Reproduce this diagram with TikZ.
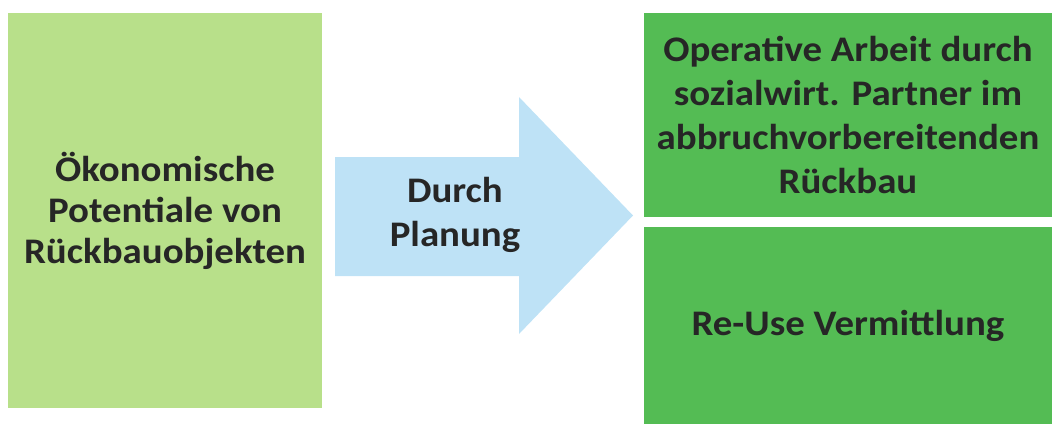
\documentclass[tikz,border=0pt]{standalone}
\usepackage{fontspec}
\setmainfont{Carlito}[FakeStretch=1.08]
\definecolor{lightgrn}{RGB}{184,224,138}
\definecolor{midgrn}{RGB}{84,188,84}
\definecolor{skyblue}{RGB}{190,226,246}
\definecolor{txtgray}{RGB}{38,38,38}
\tikzset{
  box/.style={rectangle, inner sep=0pt, align=center, text=txtgray,
    font=\bfseries\fontsize{36}{44}\selectfont},
}
\begin{document}
\begin{tikzpicture}[x=1pt,y=-1pt]
    \useasboundingbox (0,0) rectangle (1052,424);
    % left box
    \node[box, fill=lightgrn, minimum width=314pt, minimum height=395pt,
      font=\bfseries\fontsize{36}{41}\selectfont] (pot) at (165,210.5)
      {Ökonomische\\Potentiale von\\Rückbauobjekten};
    % block arrow
    \coordinate (A) at (335,157); \coordinate (B) at (519,157);
    \coordinate (C) at (519,97); \coordinate (D) at (633,215.5);
    \coordinate (E) at (519,334); \coordinate (F) at (519,276);
    \coordinate (G) at (335,276);
    \fill[skyblue] (A)--(B)--(C)--(D)--(E)--(F)--(G)--cycle;
    \node[box] (plan) at (455,215) {Durch\\Planung};
    % right boxes
    \node[box, fill=midgrn, minimum width=408pt, minimum height=204pt] (op) at (848,115)
      {Operative Arbeit durch\\sozialwirt. Partner im\\abbruchvorbereitenden\\Rückbau};
    \node[box, fill=midgrn, minimum width=408pt, minimum height=197pt] (reuse) at (848,325.5)
      {Re-Use Vermittlung};
  \end{tikzpicture}
\end{document}
